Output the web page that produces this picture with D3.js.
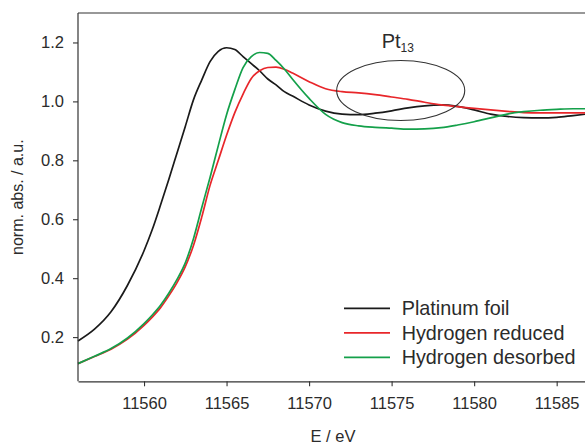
<!DOCTYPE html>
<html>
<head>
<meta charset="utf-8">
<script src="https://cdn.jsdelivr.net/npm/d3@7"></script>
<style>
  html, body { margin: 0; padding: 0; background: #fff; }
  svg { display: block; font-family: "Liberation Sans", Arial, sans-serif; }
</style>
</head>
<body>
<svg id="chart" width="585" height="445"></svg>
<script>
// ---- data ----
const energy = [11556, 11557, 11558, 11559, 11560, 11560.5, 11561, 11561.5, 11562, 11562.5,
  11563, 11563.5, 11564, 11564.5, 11565, 11565.5, 11566, 11566.5, 11567, 11567.5,
  11568, 11568.5, 11569, 11570, 11571, 11572, 11573, 11574, 11575, 11576,
  11577, 11578, 11579, 11580, 11581, 11582, 11583, 11584, 11585, 11586, 11587];

const platinumFoil = [0.187, 0.227, 0.286, 0.376, 0.493, 0.565, 0.648, 0.735, 0.825, 0.915,
  1.006, 1.073, 1.135, 1.170, 1.182, 1.176, 1.152, 1.128, 1.104, 1.076,
  1.056, 1.033, 1.018, 0.988, 0.967, 0.957, 0.955, 0.960, 0.968, 0.978,
  0.985, 0.988, 0.983, 0.971, 0.957, 0.949, 0.945, 0.944, 0.946, 0.952, 0.958];

const hydrogenReduced = [0.110, 0.134, 0.159, 0.193, 0.240, 0.268, 0.300, 0.340, 0.385, 0.439,
  0.512, 0.608, 0.715, 0.800, 0.885, 0.962, 1.025, 1.078, 1.104, 1.115,
  1.116, 1.109, 1.096, 1.067, 1.043, 1.033, 1.029, 1.023, 1.015, 1.007,
  0.997, 0.988, 0.982, 0.976, 0.971, 0.966, 0.962, 0.961, 0.961, 0.961, 0.961];

const hydrogenDesorbed = [0.110, 0.135, 0.161, 0.197, 0.246, 0.275, 0.308, 0.349, 0.396, 0.452,
  0.535, 0.640, 0.742, 0.850, 0.955, 1.040, 1.115, 1.152, 1.166, 1.163,
  1.139, 1.110, 1.075, 1.010, 0.956, 0.928, 0.917, 0.912, 0.909, 0.906,
  0.907, 0.911, 0.920, 0.931, 0.944, 0.957, 0.965, 0.970, 0.973, 0.975, 0.975];

const seriesNames = ["Platinum foil", "Hydrogen reduced", "Hydrogen desorbed"];
const seriesValues = [platinumFoil, hydrogenReduced, hydrogenDesorbed];
const seriesColors = ["#1a1a1a", "#e8262a", "#14a04a"];

const xTicks = [11560, 11565, 11570, 11575, 11580, 11585];
const yTicks = [0.2, 0.4, 0.6, 0.8, 1.0, 1.2];

// annotation ellipse: centre energy, centre value, half-width (eV), half-height (a.u.)
const ellipseCenter = [11575.55, 1.037];
const ellipseRadii = [3.88, 0.102];
const annotationLabel = ["Pt", "13"];

// ---- layout ----
const svg = d3.select("#chart");
const plotLeft = 78, plotTop = 13, plotBottom = 381.3;
const pxPerEV = 16.506;
const xDomain = [11556, 11590];
const yDomain = [0.05, 1.3];

const x = d3.scaleLinear().domain(xDomain).range([plotLeft, plotLeft + (xDomain[1] - xDomain[0]) * pxPerEV]);
const y = d3.scaleLinear().domain(yDomain).range([plotBottom, plotTop]);

const axisColor = "#333";
const textColor = "#2b2b2b";

// top frame line
svg.append("line")
  .attr("x1", plotLeft).attr("x2", x.range()[1])
  .attr("y1", plotTop).attr("y2", plotTop)
  .attr("stroke", axisColor).attr("stroke-width", 1.2);

// curves
const line = d3.line()
  .x((d, i) => x(energy[i]))
  .y(d => y(d))
  .curve(d3.curveMonotoneX);

seriesValues.forEach((vals, k) => {
  svg.append("path")
    .datum(vals)
    .attr("d", line)
    .attr("fill", "none")
    .attr("stroke", seriesColors[k])
    .attr("stroke-width", 1.7)
    .attr("stroke-linejoin", "round");
});

// axes
const xAxis = d3.axisBottom(x).tickValues(xTicks).tickFormat(d3.format("d")).tickSize(5).tickPadding(11).tickSizeOuter(0);
const yAxis = d3.axisLeft(y).tickValues(yTicks).tickFormat(d3.format(".1f")).tickSize(5).tickPadding(9).tickSizeOuter(0);

const gx = svg.append("g").attr("transform", `translate(0,${plotBottom})`).call(xAxis);
const gy = svg.append("g").attr("transform", `translate(${plotLeft},0)`).call(yAxis);

[gx, gy].forEach(g => {
  g.select(".domain").attr("stroke", axisColor).attr("stroke-width", 1.2);
  g.selectAll(".tick line").attr("stroke", axisColor).attr("stroke-width", 1.1);
  g.selectAll(".tick text").attr("fill", textColor).style("font-size", "16.5px")
    .style("font-family", '"Liberation Sans", Arial, sans-serif');
});
gy.select(".domain").attr("d", `M0,${plotBottom}V${plotTop}`);

// axis titles
svg.append("text")
  .attr("x", 333).attr("y", 442)
  .attr("text-anchor", "middle")
  .attr("fill", textColor)
  .style("font-size", "16.5px")
  .text("E / eV");

svg.append("text")
  .attr("transform", `translate(23,${(plotTop + plotBottom) / 2}) rotate(-90)`)
  .attr("text-anchor", "middle")
  .attr("fill", textColor)
  .style("font-size", "16px")
  .text("norm. abs. / a.u.");

// annotation ellipse
const cx = x(ellipseCenter[0]), cy = y(ellipseCenter[1]);
svg.append("ellipse")
  .attr("cx", cx).attr("cy", cy)
  .attr("rx", x(ellipseCenter[0] + ellipseRadii[0]) - cx)
  .attr("ry", y(ellipseCenter[1] - ellipseRadii[1]) - cy)
  .attr("fill", "none")
  .attr("stroke", "#333")
  .attr("stroke-width", 1.1);

const lab = svg.append("text")
  .attr("x", cx - 19).attr("y", 48.3)
  .attr("fill", textColor)
  .style("font-size", "20px");
lab.append("tspan").text(annotationLabel[0]);
lab.append("tspan").attr("dy", 4).style("font-size", "12px").text(annotationLabel[1]);

// legend
const legend = svg.append("g").attr("transform", "translate(344,308.3)");
seriesNames.forEach((name, k) => {
  const g = legend.append("g").attr("transform", `translate(0,${k * 24.5})`);
  g.append("line").attr("x1", 0).attr("x2", 46).attr("y1", 0).attr("y2", 0)
    .attr("stroke", seriesColors[k]).attr("stroke-width", 1.8);
  g.append("text").attr("x", 57.7).attr("y", 7)
    .attr("fill", textColor)
    .style("font-size", "19.8px")
    .text(name);
});
</script>
</body>
</html>
